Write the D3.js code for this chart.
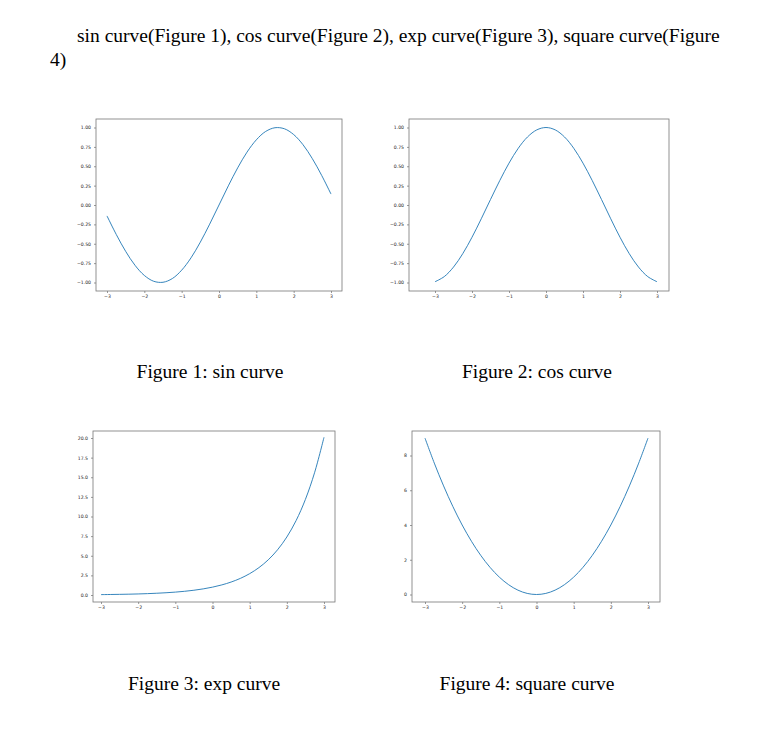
<!DOCTYPE html>
<html><head><meta charset="utf-8">
<script src="https://cdn.jsdelivr.net/npm/d3@7"></script>
<style>body{margin:0;background:#fff}</style>
</head><body>
<svg id="page" width="760" height="748"></svg>
<script>
const xs = [-3,-2.75,-2.5,-2.25,-2,-1.75,-1.5,-1.25,-1,-0.75,-0.5,-0.25,0,0.25,0.5,0.75,1,1.25,1.5,1.75,2,2.25,2.5,2.75,3];
const sinVals = [-0.141,-0.382,-0.598,-0.778,-0.909,-0.984,-0.997,-0.949,-0.841,-0.682,-0.479,-0.247,0,0.247,0.479,0.682,0.841,0.949,0.997,0.984,0.909,0.778,0.598,0.382,0.141];
const cosVals = [-0.990,-0.924,-0.801,-0.628,-0.416,-0.178,0.071,0.315,0.540,0.732,0.878,0.969,1,0.969,0.878,0.732,0.540,0.315,0.071,-0.178,-0.416,-0.628,-0.801,-0.924,-0.990];
const expVals = [0.050,0.064,0.082,0.105,0.135,0.174,0.223,0.287,0.368,0.472,0.607,0.779,1,1.284,1.649,2.117,2.718,3.490,4.482,5.755,7.389,9.488,12.18,15.64,20.09];
const sqVals = [9,7.5625,6.25,5.0625,4,3.0625,2.25,1.5625,1,0.5625,0.25,0.0625,0,0.0625,0.25,0.5625,1,1.5625,2.25,3.0625,4,5.0625,6.25,7.5625,9];

const xTicks = [-3,-2,-1,0,1,2,3];
const trigTicks = [-1,-0.75,-0.5,-0.25,0,0.25,0.5,0.75,1];
const expTicks = [0,2.5,5,7.5,10,12.5,15,17.5,20];
const sqTicks = [0,2,4,6,8];

const svg = d3.select("#page");
const serif = "'Liberation Serif','DejaVu Serif',serif";

// heading text
svg.append("text").attr("x", 77).attr("y", 42).attr("font-family", serif).attr("font-size", 19.5)
  .text("sin curve(Figure 1), cos curve(Figure 2), exp curve(Figure 3), square curve(Figure");
svg.append("text").attr("x", 50).attr("y", 66).attr("font-family", serif).attr("font-size", 19.5).text("4)");

const panels = [
  { vals: sinVals, yTicks: trigTicks, fmt: d3.format(".2f"), box: [96,119,342,291], xr: [107,331], yd: [-1,1], yr: [282.5,127.5], cap: "Figure 1:  sin curve", cx: 210, cy: 378 },
  { vals: cosVals, yTicks: trigTicks, fmt: d3.format(".2f"), box: [409,119,669,291], xr: [435,657], yd: [-1,1], yr: [282.5,127.5], cap: "Figure 2:  cos curve", cx: 537, cy: 378 },
  { vals: expVals, yTicks: expTicks, fmt: d3.format(".1f"), box: [93,431,335,602], xr: [101,324], yd: [0,20], yr: [595,438], cap: "Figure 3:  exp curve", cx: 204, cy: 690 },
  { vals: sqVals, yTicks: sqTicks, fmt: d3.format("d"), box: [412,431,660,602], xr: [425,648], yd: [0,8], yr: [594.5,455.5], cap: "Figure 4:  square curve", cx: 527, cy: 690 }
];

const minus = s => s.replace("-", "\u2212");

panels.forEach(p => {
  const [x0, y0, x1, y1] = p.box;
  const x = d3.scaleLinear().domain([-3, 3]).range(p.xr);
  const y = d3.scaleLinear().domain(p.yd).range(p.yr);
  const g = svg.append("g");

  const xa = g.append("g").attr("transform", `translate(0,${y1})`)
    .call(d3.axisBottom(x).tickValues(xTicks).tickSize(2).tickPadding(2).tickFormat(d => minus(String(d))));
  const ya = g.append("g").attr("transform", `translate(${x0},0)`)
    .call(d3.axisLeft(y).tickValues(p.yTicks).tickSize(2).tickPadding(3).tickFormat(d => minus(p.fmt(d))));
  [xa, ya].forEach(a => {
    a.select(".domain").remove();
    a.selectAll("line").attr("stroke", "#333").attr("stroke-width", 0.5);
    a.selectAll("text").attr("font-size", 4.6).attr("font-family", "DejaVu Sans").attr("fill", "#222");
  });

  g.append("rect").attr("x", x0).attr("y", y0).attr("width", x1 - x0).attr("height", y1 - y0)
    .attr("fill", "none").attr("stroke", "#777").attr("stroke-width", 0.8);

  g.append("path").datum(p.vals)
    .attr("d", d3.line().x((d, i) => x(xs[i])).y(d => y(d)).curve(d3.curveCatmullRom.alpha(0.5)))
    .attr("fill", "none").attr("stroke", "#1f77b4").attr("stroke-width", 0.9);

  svg.append("text").attr("x", p.cx).attr("y", p.cy).attr("text-anchor", "middle")
    .attr("font-family", serif).attr("font-size", 19.5).text(p.cap);
});
</script>
</body></html>
